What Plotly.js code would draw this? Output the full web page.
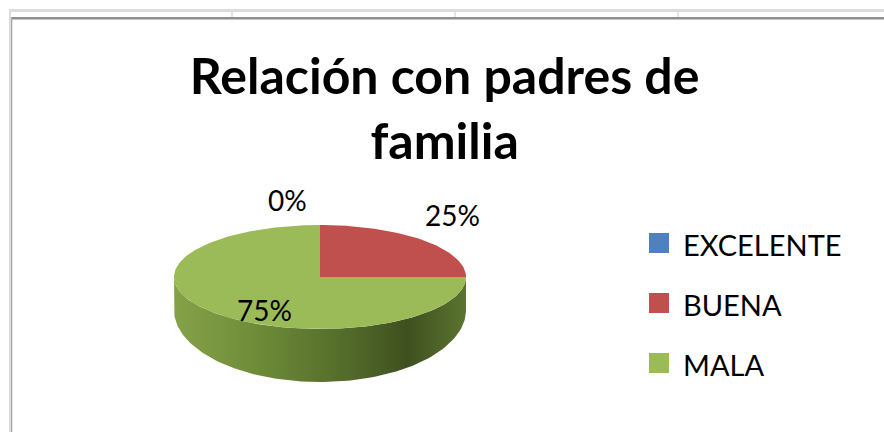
<!DOCTYPE html>
<html>
<head>
<meta charset="utf-8">
<script src="https://cdn.plot.ly/plotly-3.0.1.min.js"></script>
<style>html,body{margin:0;padding:0;background:#fff;}#chart{width:884px;height:432px;}</style>
</head>
<body>
<div id="chart"></div>
<script>
// ---- data ----
const categories = ["EXCELENTE", "BUENA", "MALA"];
const values = [0, 1, 3];
const colors = ["#4F81BD", "#C0504D", "#9BBB59"];
const titleText = "Relación con padres de<br>familia";

// ---- geometry / style (pixel space) ----
const W = 884, H = 432;
const cx = 320, cy = 277, rx = 146, ry = 52;
const bcy = 310, bry = 72;           // bottom ellipse of the 3D side
const labelPos = [[287, 200], [452, 215], [264, 310]];
const legendX = 649, legendY0 = 243, legendStep = 60, box = 20;
const FONT = "Lato, 'Open Sans', sans-serif";

const total = values.reduce((a, b) => a + b, 0);
const deg = Math.PI / 180;
function pt(phi, ccy, rry) { // phi clockwise from 12 o'clock
  return [cx + rx * Math.sin(phi * deg), ccy - rry * Math.cos(phi * deg)];
}
function arc(a0, a1, ccy, rry) {
  const xs = [], ys = [];
  const n = Math.max(2, Math.ceil(Math.abs(a1 - a0) / 1.5));
  for (let i = 0; i <= n; i++) {
    const p = pt(a0 + (a1 - a0) * i / n, ccy, rry);
    xs.push(p[0]); ys.push(p[1]);
  }
  return [xs, ys];
}

const traces = [];
const tops = [];
let start = 0;
values.forEach((v, i) => {
  const sweep = v / total * 360;
  const a0 = start, a1 = start + sweep;
  start = a1;
  if (sweep <= 0) return;
  // visible side (front half: 90..270)
  const s0 = Math.max(a0, 90), s1 = Math.min(a1, 270);
  if (s1 > s0) {
    const [tx, ty] = arc(s0, s1, cy, ry);
    const [bx, by] = arc(s1, s0, bcy, bry);
    traces.push({
      type: "scatter", mode: "lines", x: tx.concat(bx, [tx[0]]), y: ty.concat(by, [ty[0]]),
      fill: "toself", line: {width: 0, color: "rgba(0,0,0,0)"},
      fillgradient: {type: "horizontal", colorscale: [
        [0, "#86a248"], [0.3, "#6d8a38"], [0.6, "#526a2a"], [0.8, "#3f5020"], [1, "#5b7430"]]},
      hoverinfo: "skip", showlegend: false
    });
  }
  const [ax, ay] = arc(a0, a1, cy, ry);
  tops.push({
    type: "scatter", mode: "lines",
    x: [cx].concat(ax, [cx]), y: [cy].concat(ay, [cy]),
    fill: "toself", fillcolor: colors[i], line: {width: 0, color: colors[i]},
    name: categories[i], hoverinfo: "name", showlegend: false
  });
});
traces.push(...tops);

const annotations = [];
values.forEach((v, i) => {
  annotations.push({
    x: labelPos[i][0], y: labelPos[i][1], xref: "x", yref: "y",
    text: Math.round(v / total * 100) + "%", showarrow: false,
    font: {family: FONT, size: 28, color: "#000"}, xanchor: "center", yanchor: "middle"
  });
});
const shapes = [
  // spreadsheet cell borders behind the chart
  {type: "rect", xref: "x", yref: "y", x0: 9, x1: W, y0: 9, y1: 12, fillcolor: "#dcdcdc", line: {width: 0}, layer: "below"},
  {type: "rect", xref: "x", yref: "y", x0: 9, x1: 11, y0: 9, y1: H, fillcolor: "#dcdcdc", line: {width: 0}, layer: "below"},
  {type: "rect", xref: "x", yref: "y", x0: 11, x1: W, y0: 17, y1: 19.5, fillcolor: "#8e8e8e", line: {width: 0}, layer: "below"},
  {type: "rect", xref: "x", yref: "y", x0: 11, x1: 12.3, y0: 17, y1: H, fillcolor: "#a6a6a6", line: {width: 0}, layer: "below"}
];
[232, 455, 678].forEach(x => shapes.push({type: "line", xref: "x", yref: "y", x0: x, x1: x, y0: 12, y1: 17, line: {color: "#dcdcdc", width: 1.5}, layer: "below"}));
categories.forEach((c, i) => {
  const yc = legendY0 + i * legendStep;
  shapes.push({type: "rect", xref: "x", yref: "y", x0: legendX, x1: legendX + box, y0: yc - box / 2, y1: yc + box / 2,
    fillcolor: colors[i], line: {width: 0}});
  annotations.push({x: legendX + box + 12, y: yc + 1, xref: "x", yref: "y", text: c, showarrow: false,
    xanchor: "left", yanchor: "middle", font: {family: FONT, size: 29, color: "#000"}});
});

const layout = {
  width: W, height: H, margin: {l: 0, r: 0, t: 0, b: 0},
  paper_bgcolor: "#fff", plot_bgcolor: "#fff", showlegend: false,
  title: {text: titleText, x: 0.503, xanchor: "center", y: 0.783, yanchor: "top",
    font: {family: FONT, size: 50, color: "#000", weight: "bold"}},
  xaxis: {range: [0, W], visible: false, fixedrange: true},
  yaxis: {range: [H, 0], visible: false, fixedrange: true},
  shapes: shapes, annotations: annotations
};
Plotly.newPlot("chart", traces, layout, {displayModeBar: false, staticPlot: true});
</script>
</body>
</html>
